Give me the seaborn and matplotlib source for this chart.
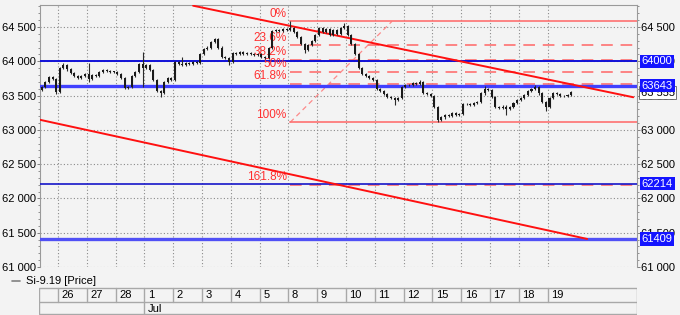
import numpy as np
import pandas as pd
import matplotlib
matplotlib.use("Agg")
import matplotlib.pyplot as plt
import seaborn as sns
from matplotlib.ticker import FuncFormatter, MultipleLocator, FixedLocator
from matplotlib.lines import Line2D
from matplotlib.patches import Rectangle

# ---------------- data ----------------
day_labels = ['26', '27', '28', '1', '2', '3', '4', '5', '8', '9',
              '10', '11', '12', '15', '16', '17', '18', '19']
month_label = 'Jul'
month_start_day = 3          # index of "1" in day_labels
series_name = 'Si-9.19 [Price]'

bars_per_day = 8
first_slot = 3               # first visible slot of the partial day before "26"
first_open = 63580

close = [
    # 25 (partial)
    63620, 63700, 63770, 63740, 63550,
    # 26
    63900, 63950, 63880, 63830, 63780, 63760, 63780, 63820,
    # 27
    63740, 63800, 63790, 63840, 63870, 63860, 63850, 63850,
    # 28
    63820, 63760, 63610, 63620, 63780, 63850, 63960, 63900,
    # 1
    63940, 63870, 63720, 63560, 63540, 63700, 63750, 63720,
    # 2
    63990, 63960, 63950, 63980, 63960, 63990, 63980, 64100,
    # 3
    64180, 64200, 64280, 64320, 64200, 64060, 64050, 63990,
    # 4
    64120, 64110, 64130, 64100, 64120, 64110, 64090, 64100,
    # 5
    64060, 64050, 64190, 64440, 64460, 64440, 64470, 64450,
    # 8
    64480, 64420, 64350, 64250, 64170, 64230, 64300, 64380,
    # 9
    64480, 64420, 64470, 64380, 64450, 64400, 64480, 64520,
    # 10
    64380, 64250, 64100, 63900, 63810, 63780, 63760, 63720,
    # 11
    63590, 63560, 63520, 63480, 63470, 63440, 63470, 63620,
    # 12
    63650, 63660, 63680, 63670, 63700, 63540, 63520, 63500,
    # 15
    63330, 63150, 63180, 63220, 63200, 63240, 63210, 63230,
    # 16
    63380, 63370, 63360, 63390, 63400, 63530, 63600, 63580,
    # 17
    63480, 63330, 63320, 63340, 63300, 63330, 63390, 63440,
    # 18
    63470, 63510, 63560, 63600, 63620, 63530, 63400, 63330,
    # 19
    63470, 63530, 63520, 63500, 63490, 63510, 63555,
]
wick = 15
spike_high = {6: 63975, 13: 63970, 28: 64140, 39: 64060, 48: 64340,
              69: 64590, 84: 64560, 105: 63730, 123: 63640, 137: 63660}
spike_low = {4: 63520, 13: 63700, 28: 63620, 33: 63475, 52: 63950,
             73: 64120, 98: 63360, 110: 63110, 129: 63215, 140: 63280}

h_levels = [64000, 63643, 62214, 61409]
h_colors = ['#1010d8', '#4040ff', '#1515c8', '#5050f5']
h_widths = [1.4, 2.4, 1.2, 2.4]
last_price = 63555

fib_names = ['0%', '23.6%', '38.2%', '50%', '61.8%', '100%', '161.8%']
fib_ratios = [0.0, 0.236, 0.382, 0.5, 0.618, 1.0, 1.618]
fib_high = 64580
fib_low = 63110
fib_start = 8.06
fib_diag_end = 11.59

trend_upper_x = [4.69, 19.97]
trend_upper_y = [64810, 63475]
trend_lower_x = [-0.7, 18.37]
trend_lower_y = [63153, 61409]

# ---------------- build OHLC ----------------
n = len(close)
x = np.array([-1 + (first_slot + i + 0.5) / bars_per_day for i in range(n)])
opens = [first_open] + close[:-1]
df = pd.DataFrame({'x': x, 'open': opens, 'close': close})
df['high'] = [spike_high.get(i, max(o, c) + wick) for i, (o, c) in enumerate(zip(opens, close))]
df['low'] = [spike_low.get(i, min(o, c) - wick) for i, (o, c) in enumerate(zip(opens, close))]

# ---------------- style ----------------
sns.set_theme(style='ticks')
plt.rcParams['font.family'] = ['Liberation Sans', 'DejaVu Sans']
bg = '#f3f3f3'

fig = plt.figure(figsize=(6.8, 3.15), dpi=100)
fig.patch.set_facecolor(bg)
ax = fig.add_axes([40 / 680, 48 / 315, 597 / 680, 262 / 315])
ax.set_facecolor(bg)

xmin, xmax = -0.625, 20.1
ax.set_xlim(xmin, xmax)
ax.set_ylim(61000, 64820)

# grid
ax.yaxis.set_major_locator(MultipleLocator(500))
ax.yaxis.set_minor_locator(MultipleLocator(100))
ax.xaxis.set_major_locator(FixedLocator(range(len(day_labels))))
ax.grid(True, which='major', linestyle=(0, (1, 2)), color='#8a8a8a', lw=0.8)
ax.tick_params(axis='x', which='both', bottom=False, labelbottom=False)
ax.yaxis.set_major_formatter(FuncFormatter(lambda v, p: f"{int(v):,}".replace(',', ' ')))
ax.tick_params(axis='y', which='both', left=True, right=True, labelleft=True, labelright=True,
               labelsize=8, colors='#000000', color='#808080', pad=1)
ax.tick_params(axis='y', which='major', length=2.2, width=0.7)
ax.tick_params(axis='y', which='minor', length=1.5, width=0.6)
for s in ['left', 'right', 'top']:
    ax.spines[s].set_color('#9a9a9a')
    ax.spines[s].set_linewidth(0.8)
ax.spines['bottom'].set_visible(False)

# horizontal level lines
for lv, c, w in zip(h_levels, h_colors, h_widths):
    ax.axhline(lv, color=c, lw=w, zorder=4)

# fibonacci
fib_color = '#ff7070'
rng = fib_high - fib_low
for name, r in zip(fib_names, fib_ratios):
    lv = fib_high - r * rng
    ls = '-' if r in (0.0, 1.0) else (0, (6, 4))
    ax.plot([fib_start, xmax], [lv, lv], color=fib_color, lw=1.4, ls=ls, alpha=0.85, zorder=3)
    ax.text(fib_start - 0.12, lv + 25, name, color='#ff3030', fontsize=8.5,
            ha='right', va='bottom', zorder=6)
ax.plot([fib_start, fib_diag_end], [fib_low, fib_high], color=fib_color, lw=0.9,
        ls=(0, (4, 3)), alpha=0.8, zorder=3)

# trend lines (seaborn)
tl = pd.DataFrame({'x': trend_upper_x + trend_lower_x,
                   'y': trend_upper_y + trend_lower_y,
                   'line': ['upper'] * 2 + ['lower'] * 2})
sns.lineplot(data=tl, x='x', y='y', units='line', estimator=None, color='#ff1010',
             lw=1.4, ax=ax, legend=False, zorder=5)
ax.set_xlabel('')
ax.set_ylabel('')

# candles
body_w = 0.07
ax.vlines(df['x'], df['low'], df['high'], color='#2a2a2a', lw=0.8, zorder=7)
body_lo = np.minimum(df['open'], df['close'])
body_h = np.maximum(np.abs(df['close'] - df['open']), 8)
ax.bar(df['x'], body_h, bottom=body_lo, width=body_w, color='#1a1a1a', lw=0, zorder=8)

# right-side price labels
ytr = ax.get_yaxis_transform()
ax.text(1.006, last_price - 15, f"{last_price:,}".replace(',', ' '), transform=ytr, ha='left',
        va='center', fontsize=8, color='#000000', zorder=20, clip_on=False,
        bbox=dict(boxstyle='square,pad=0.15', fc='white', ec='#606060', lw=0.6))
for lv in h_levels:
    ax.text(1.008, lv, str(lv), transform=ytr, ha='left', va='center', fontsize=8,
            color='white', zorder=30, clip_on=False,
            bbox=dict(boxstyle='square,pad=0.15', fc='#1414ff', ec='none'))

# legend
fig.add_artist(Line2D([12 / 680, 20 / 680], [1 - 281 / 315] * 2, color='#808080', lw=1.2))
fig.text(26 / 680, 1 - 281 / 315, series_name, fontsize=8, va='center', ha='left', color='#000000')

# date table
tab = fig.add_axes([39 / 680, 0, 598 / 680, 28 / 315])
tab.set_xlim(xmin - 0.035, xmax)
tab.set_ylim(0, 28)
tab.axis('off')
tab.patch.set_alpha(0)
lc = '#a8a8a8'
tab.add_patch(Rectangle((xmin - 0.035, 0.6), xmax - xmin + 0.035, 26.8, fill=False, ec=lc, lw=1.0))
tab.plot([xmin - 0.035, xmax], [12.6, 12.6], color=lc, lw=1.0)
for k, lab in enumerate(day_labels):
    tab.plot([k, k], [12.6, 27.4], color=lc, lw=1.0)
    tab.text(k + 0.12, 19.8, lab, fontsize=8, va='center', ha='left', color='#000000')
tab.plot([month_start_day, month_start_day], [0.6, 12.6], color=lc, lw=1.0)
tab.text(month_start_day + 0.12, 6.4, month_label, fontsize=8, va='center', ha='left', color='#000000')

fig.savefig('out.png', dpi=100, facecolor=bg)
